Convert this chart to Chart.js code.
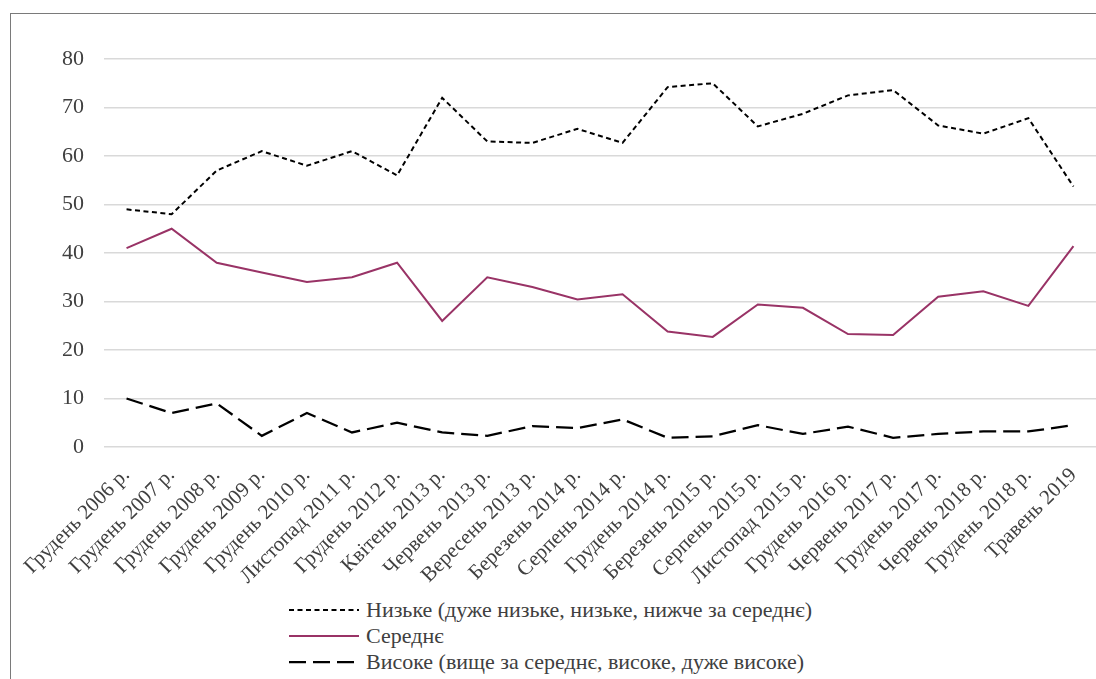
<!DOCTYPE html>
<html>
<head>
<meta charset="utf-8">
<script src="https://cdn.jsdelivr.net/npm/chart.js@4/dist/chart.umd.min.js"></script>
<style>
  html, body { margin: 0; padding: 0; background: #fff; overflow: hidden; }
  body { width: 1096px; height: 679px; position: relative; font-family: "Liberation Serif", "Times New Roman", serif; }
  #frame { position: absolute; left: 10px; top: 13px; width: 1200px; height: 800px; border-left: 1px solid #7a7a7a; border-top: 1px solid #7a7a7a; }
  #wrap { position: absolute; left: 0; top: 0; width: 1096px; height: 590px; }
  #legend { position: absolute; left: 289px; top: 597px; color: #404040; font-size: 22px; }
  #legend .row { height: 26px; display: flex; align-items: center; white-space: nowrap; }
  #legend svg { width: 70px; height: 10px; margin-right: 7px; flex: none; }
</style>
</head>
<body>
<div id="frame"></div>
<div id="wrap"><canvas id="c"></canvas></div>
<div id="legend"></div>
<script>
const categories = ["Грудень 2006 р.", "Грудень 2007 р.", "Грудень 2008 р.", "Грудень 2009 р.", "Грудень 2010 р.", "Листопад 2011 р.", "Грудень 2012 р.", "Квітень 2013 р.", "Червень 2013 р.", "Вересень 2013 р.", "Березень 2014 р.", "Серпень 2014 р.", "Грудень 2014 р.", "Березень 2015 р.", "Серпень 2015 р.", "Листопад 2015 р.", "Грудень 2016 р.", "Червень 2017 р.", "Грудень 2017 р.", "Червень 2018 р.", "Грудень 2018 р.", "Травень 2019"];
const lowValues = [49, 48, 57, 61, 58, 61, 56, 72, 63, 62.7, 65.6, 62.7, 74.2, 75, 66.1, 68.7, 72.5, 73.6, 66.3, 64.6, 67.8, 53.7];
const midValues = [41, 45, 38, 36, 34, 35, 38, 26, 35, 33, 30.4, 31.5, 23.8, 22.7, 29.4, 28.7, 23.3, 23.1, 31, 32.1, 29.1, 41.4];
const highValues = [10, 7, 9, 2.3, 7, 3, 5, 3, 2.3, 4.3, 3.9, 5.7, 1.9, 2.2, 4.5, 2.7, 4.2, 1.9, 2.7, 3.2, 3.2, 4.5];
const seriesNames = ["Низьке (дуже низьке, низьке, нижче за середнє)", "Середнє", "Високе (вище за середнє, високе, дуже високе)"];
const yTicks = [0, 10, 20, 30, 40, 50, 60, 70, 80];

const styles = [
  { color: "#000000", width: 2, dash: [5, 3.5] },
  { color: "#993366", width: 2, dash: [] },
  { color: "#000000", width: 2.25, dash: [17, 7] }
];
const valueSets = [lowValues, midValues, highValues];
const serif = "'Liberation Serif', 'Times New Roman', serif";

const datasets = valueSets.map((vals, i) => ({
  label: seriesNames[i],
  data: vals,
  borderColor: styles[i].color,
  backgroundColor: styles[i].color,
  borderWidth: styles[i].width,
  borderDash: styles[i].dash,
  pointRadius: 0,
  tension: 0,
  fill: false
}));

new Chart(document.getElementById("c"), {
  type: "line",
  data: { labels: categories, datasets },
  options: {
    responsive: true,
    maintainAspectRatio: false,
    animation: false,
    layout: { padding: { left: 0, right: 0, top: 59, bottom: 0 } },
    plugins: { legend: { display: false }, tooltip: { enabled: false } },
    scales: {
      x: {
        offset: true,
        grid: { display: false, drawTicks: false },
        border: { display: false },
        ticks: {
          autoSkip: false, maxRotation: 45, minRotation: 45, padding: 16,
          color: "#404040",
          font: { family: serif, size: 21 }
        },
        afterFit: (s) => { s.height = 143; s.paddingRight = 0; s.paddingLeft = 0; }
      },
      y: {
        min: 0, max: 80,
        afterBuildTicks: (s) => { s.ticks = yTicks.map(v => ({ value: v })); },
        grid: { color: "#d9d9d9", lineWidth: 1.5, drawTicks: false },
        border: { display: false },
        ticks: {
          padding: 20, color: "#404040",
          font: { family: serif, size: 22 }
        },
        afterFit: (s) => { s.width = 104; s.paddingTop = 0; s.paddingBottom = 0; }
      }
    }
  }
});

const legend = document.getElementById("legend");
seriesNames.forEach((name, i) => {
  const row = document.createElement("div");
  row.className = "row";
  const st = styles[i];
  row.innerHTML = '<svg viewBox="0 0 70 10"><line x1="0" y1="5" x2="70" y2="5" stroke="' + st.color +
    '" stroke-width="' + st.width + '" stroke-dasharray="' + (st.dash.length ? st.dash.join(",") : "none") + '"/></svg>';
  const span = document.createElement("span");
  span.textContent = name;
  row.appendChild(span);
  legend.appendChild(row);
});
</script>
</body>
</html>
